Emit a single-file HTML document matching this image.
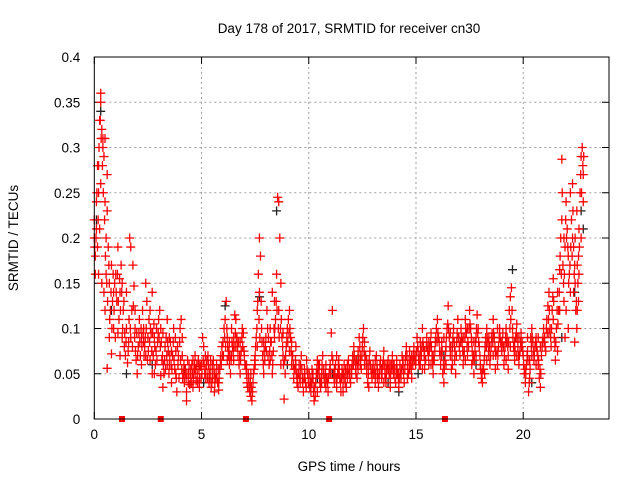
<!DOCTYPE html>
<html><head><meta charset="utf-8"><style>
html,body{margin:0;padding:0;background:#fff;}
svg{display:block;font-family:"Liberation Sans",sans-serif;}
</style></head><body>
<svg id="chart" width="640" height="480" viewBox="0 0 640 480" xmlns="http://www.w3.org/2000/svg">
<rect x="0" y="0" width="640" height="480" fill="#fff"/>
<text x="349" y="33" font-size="13.5" text-anchor="middle" fill="#000">Day 178 of 2017, SRMTID for receiver cn30</text>
<text x="18" y="238" font-size="13.5" text-anchor="middle" transform="rotate(-90 18 238)" fill="#000">SRMTID / TECUs</text>
<text x="349" y="471" font-size="13.5" text-anchor="middle" fill="#000">GPS time / hours</text>
<g id="grid"></g>
<g id="axes"></g>
<g id="blackSeries"></g>
<g id="redSeries"></g>
<g id="markers"></g>
<rect x="94.3" y="57" width="514.7" height="362" fill="none" stroke="#000" stroke-width="1"/>
</svg>
<script>
const xTicks = [0, 5, 10, 15, 20];
const yTicks = [0, 0.05, 0.1, 0.15, 0.2, 0.25, 0.3, 0.35, 0.4];
const yTickLabels = ["0", "0.05", "0.1", "0.15", "0.2", "0.25", "0.3", "0.35", "0.4"];
const markerHours = [1.29, 3.1, 7.07, 10.95, 16.35];
const blackPts = [[0.1,.22],[0.3,.34],[0.8,.12],[1.5,.05],[2.7,.06],[4.2,.055],[5.1,.04],[6.1,.125],[7.7,.135],[8.5,.23],[9.0,.06],[10.4,.045],[12.3,.07],[13.7,.04],[15.1,.05],[16.3,.07],[17.8,.06],[19.5,.165],[20.4,.04],[21.8,.09],[22.4,.14],[22.7,.23],[22.8,.21],[14.2,.03],[11.1,.05]];
const redPts = [
[0.0,.2],[0.0,.22],[0.05,.18],[0.1,.24],[0.1,.21],[0.15,.28],[0.2,.28],[0.2,.25],[0.25,.33],[0.3,.36],[0.3,.35],[0.3,.26],[0.35,.32],[0.4,.31],[0.4,.3],[0.45,.29],[0.5,.31],[0.5,.24],[0.55,.2],[0.6,.27],[0.6,.23],[0.05,.16],[0.15,.19],[0.2,.16],[0.25,.21],[0.35,.15],[0.45,.14],[0.55,.16],[0.65,.19],[0.7,.15],[0.75,.12],[0.8,.17],[0.85,.13],[0.9,.10],[0.95,.15],[0.5,.12],[0.6,.056],[0.7,.09],[0.8,.072],[0.9,.14],
[1.0,.16],[1.05,.13],[1.1,.19],[1.15,.11],[1.2,.14],[1.25,.17],[1.3,.09],[1.35,.12],[1.4,.08],[1.45,.07],[1.5,.10],[1.55,.062],[1.6,.085],[1.65,.2],[1.7,.19],[1.75,.12],[1.8,.17],[1.85,.147],[1.9,.1],[1.95,.065],[1.1,.095],[1.3,.15],[1.5,.14],[1.7,.09],[1.9,.12],[1.2,.07],
[2.0,.05],[2.05,.08],[2.1,.11],[2.15,.07],[2.2,.09],[2.25,.12],[2.3,.1],[2.35,.08],[2.4,.15],[2.45,.13],[2.5,.09],[2.55,.11],[2.6,.065],[2.65,.095],[2.7,.14],[2.75,.07],[2.8,.05],[2.85,.06],[2.9,.1],[2.95,.085],[2.2,.06],[2.4,.07],[2.6,.12],[2.8,.09],[2.3,.085],[2.7,.05],
[3.0,.11],[3.05,.12],[3.1,.1],[3.15,.065],[3.2,.035],[3.25,.05],[3.3,.08],[3.35,.09],[3.4,.11],[3.45,.075],[3.5,.06],[3.55,.085],[3.6,.04],[3.65,.07],[3.7,.1],[3.75,.055],[3.8,.075],[3.85,.03],[3.9,.06],[3.95,.045],[3.2,.095],[3.4,.06],[3.6,.075],[3.8,.05],[3.5,.09],[3.1,.048],
[4.0,.1],[4.05,.11],[4.1,.07],[4.15,.05],[4.2,.04],[4.25,.055],[4.3,.03],[4.35,.065],[4.4,.05],[4.45,.038],[4.5,.045],[4.55,.06],[4.6,.035],[4.65,.055],[4.7,.07],[4.75,.042],[4.8,.05],[4.85,.065],[4.9,.045],[4.95,.058],[4.1,.09],[4.3,.02],[4.5,.055],[4.7,.05],[4.9,.035],[4.6,.065],
[5.0,.06],[5.05,.09],[5.1,.08],[5.15,.05],[5.2,.045],[5.25,.065],[5.3,.07],[5.35,.04],[5.4,.055],[5.45,.035],[5.5,.05],[5.55,.065],[5.6,.03],[5.65,.045],[5.7,.06],[5.75,.04],[5.8,.032],[5.85,.055],[5.9,.07],[5.95,.08],[5.2,.055],[5.4,.045],[5.6,.05],[5.8,.04],[5.5,.06],[5.3,.05],
[6.0,.085],[6.05,.1],[6.1,.11],[6.15,.13],[6.2,.09],[6.25,.07],[6.3,.06],[6.35,.05],[6.4,.1],[6.45,.08],[6.5,.065],[6.55,.115],[6.6,.11],[6.65,.09],[6.7,.07],[6.75,.06],[6.8,.05],[6.85,.075],[6.9,.1],[6.95,.095],[6.2,.065],[6.4,.07],[6.6,.08],[6.8,.085],[6.5,.09],[6.3,.085],
[7.0,.07],[7.05,.06],[7.1,.05],[7.15,.035],[7.2,.045],[7.25,.03],[7.3,.025],[7.35,.02],[7.4,.04],[7.45,.055],[7.5,.07],[7.55,.09],[7.6,.12],[7.65,.16],[7.7,.2],[7.75,.18],[7.8,.1],[7.85,.07],[7.9,.05],[7.95,.065],[7.1,.06],[7.3,.05],[7.5,.06],[7.7,.14],[7.9,.085],[7.6,.08],
[8.0,.09],[8.05,.12],[8.1,.07],[8.15,.06],[8.2,.1],[8.25,.085],[8.3,.05],[8.35,.075],[8.4,.13],[8.45,.11],[8.5,.16],[8.55,.245],[8.6,.24],[8.65,.2],[8.7,.15],[8.75,.09],[8.8,.07],[8.85,.022],[8.9,.05],[8.95,.08],[8.2,.065],[8.4,.09],[8.6,.12],[8.8,.095],[8.3,.14],[8.7,.06],
[9.0,.1],[9.05,.11],[9.1,.12],[9.15,.09],[9.2,.06],[9.25,.07],[9.3,.045],[9.35,.055],[9.4,.08],[9.45,.04],[9.5,.035],[9.55,.06],[9.6,.05],[9.65,.07],[9.7,.045],[9.75,.03],[9.8,.055],[9.85,.04],[9.9,.065],[9.95,.05],[9.2,.085],[9.4,.06],[9.6,.04],[9.8,.045],[9.1,.075],[9.5,.05],
[10,.04],[10.05,.035],[10.1,.03],[10.15,.055],[10.2,.04],[10.25,.02],[10.3,.025],[10.35,.05],[10.4,.065],[10.45,.06],[10.5,.045],[10.55,.035],[10.6,.05],[10.65,.07],[10.7,.055],[10.75,.04],[10.8,.06],[10.85,.045],[10.9,.03],[10.95,.05],[10.2,.05],[10.4,.03],[10.6,.04],[10.8,.035],[10.1,.045],[10.5,.06],
[11,.06],[11.05,.095],[11.1,.12],[11.15,.05],[11.2,.04],[11.25,.06],[11.3,.035],[11.35,.05],[11.4,.065],[11.45,.045],[11.5,.03],[11.55,.055],[11.6,.04],[11.65,.06],[11.7,.05],[11.75,.035],[11.8,.045],[11.85,.065],[11.9,.055],[11.95,.04],[11.2,.055],[11.4,.05],[11.6,.03],[11.8,.06],[11.3,.07],[11.7,.04],
[12,.05],[12.05,.07],[12.1,.08],[12.15,.065],[12.2,.05],[12.25,.045],[12.3,.075],[12.35,.09],[12.4,.06],[12.45,.055],[12.5,.08],[12.55,.1],[12.6,.085],[12.65,.07],[12.7,.05],[12.75,.04],[12.8,.06],[12.85,.075],[12.9,.055],[12.95,.045],[12.2,.06],[12.4,.07],[12.6,.06],[12.8,.035],[12.3,.055],[12.7,.065],
[13,.06],[13.05,.05],[13.1,.04],[13.15,.07],[13.2,.055],[13.25,.035],[13.3,.05],[13.35,.065],[13.4,.045],[13.45,.06],[13.5,.075],[13.55,.05],[13.6,.04],[13.65,.055],[13.7,.065],[13.75,.05],[13.8,.045],[13.85,.06],[13.9,.07],[13.95,.05],[13.2,.045],[13.4,.055],[13.6,.06],[13.8,.035],[13.1,.065],[13.5,.04],
[14,.055],[14.05,.04],[14.1,.065],[14.15,.05],[14.2,.035],[14.25,.06],[14.3,.045],[14.35,.07],[14.4,.055],[14.45,.04],[14.5,.065],[14.55,.08],[14.6,.06],[14.65,.05],[14.7,.075],[14.75,.065],[14.8,.045],[14.85,.06],[14.9,.08],[14.95,.07],[14.2,.05],[14.4,.065],[14.6,.045],[14.8,.07],[14.1,.05],[14.7,.055],
[15,.065],[15.05,.09],[15.1,.075],[15.15,.06],[15.2,.085],[15.25,.07],[15.3,.1],[15.35,.08],[15.4,.055],[15.45,.065],[15.5,.09],[15.55,.075],[15.6,.06],[15.65,.08],[15.7,.095],[15.75,.07],[15.8,.05],[15.85,.065],[15.9,.085],[15.95,.1],[15.2,.06],[15.4,.075],[15.6,.085],[15.8,.07],[15.3,.055],[15.7,.06],
[16,.11],[16.05,.09],[16.1,.075],[16.15,.06],[16.2,.085],[16.25,.05],[16.3,.04],[16.35,.065],[16.4,.08],[16.45,.1],[16.5,.125],[16.55,.09],[16.6,.07],[16.65,.055],[16.7,.08],[16.75,.1],[16.8,.065],[16.85,.05],[16.9,.085],[16.95,.11],[16.2,.07],[16.4,.06],[16.6,.095],[16.8,.08],[16.3,.09],[16.7,.06],
[17,.09],[17.05,.07],[17.1,.1],[17.15,.085],[17.2,.06],[17.25,.075],[17.3,.11],[17.35,.095],[17.4,.07],[17.45,.08],[17.5,.12],[17.55,.1],[17.6,.085],[17.65,.065],[17.7,.05],[17.75,.075],[17.8,.09],[17.85,.115],[17.9,.1],[17.95,.08],[17.2,.09],[17.4,.1],[17.6,.06],[17.8,.07],[17.3,.065],[17.7,.085],
[18,.06],[18.05,.045],[18.1,.04],[18.15,.055],[18.2,.07],[18.25,.09],[18.3,.1],[18.35,.085],[18.4,.07],[18.45,.06],[18.5,.08],[18.55,.095],[18.6,.11],[18.65,.09],[18.7,.075],[18.8,.06],[18.85,.08],[18.9,.1],[18.95,.085],[18.2,.05],[18.4,.09],[18.6,.07],[18.8,.1],[18.7,.055],[18.3,.065],
[19,.075],[19.05,.095],[19.1,.06],[19.15,.08],[19.2,.1],[19.25,.09],[19.3,.07],[19.35,.12],[19.4,.135],[19.45,.145],[19.5,.1],[19.55,.08],[19.6,.065],[19.65,.09],[19.7,.105],[19.75,.08],[19.8,.06],[19.85,.075],[19.9,.095],[19.95,.085],[19.2,.065],[19.4,.08],[19.6,.085],[19.8,.09],[19.3,.055],[19.7,.07],
[20,.07],[20.05,.05],[20.1,.04],[20.15,.06],[20.2,.075],[20.25,.03],[20.3,.045],[20.35,.09],[20.4,.1],[20.45,.085],[20.5,.065],[20.55,.08],[20.6,.09],[20.65,.075],[20.7,.06],[20.75,.045],[20.8,.035],[20.85,.07],[20.9,.085],[20.95,.1],[20.2,.09],[20.4,.07],[20.6,.06],[20.8,.08],[20.3,.065],[20.7,.09],
[21,.09],[21.05,.075],[21.1,.11],[21.15,.125],[21.2,.14],[21.25,.1],[21.3,.08],[21.35,.12],[21.4,.155],[21.45,.09],[21.5,.065],[21.55,.1],[21.6,.14],[21.65,.12],[21.7,.165],[21.75,.2],[21.8,.22],[21.85,.17],[21.9,.13],[21.95,.19],[21.2,.095],[21.4,.11],[21.6,.075],[21.8,.287],[21.9,.2],[21.7,.12],
[22,.24],[22.05,.21],[22.1,.18],[22.15,.16],[22.2,.14],[22.25,.22],[22.3,.26],[22.35,.19],[22.4,.17],[22.45,.12],[22.5,.1],[22.55,.15],[22.6,.21],[22.65,.25],[22.7,.29],[22.75,.3],[22.8,.27],[22.1,.1],[22.3,.2],[22.5,.23],[22.6,.16],[22.7,.2],[22.0,.12],[22.4,.085],[22.2,.25],[22.8,.24],[21.95,.09],[22.35,.14]
];
const redPts2 = [
[0.02,.19],[0.08,.2],[0.12,.25],[0.18,.22],[0.22,.3],[0.28,.33],[0.32,.31],[0.38,.28],[0.42,.25],[0.48,.22],[0.52,.18],[0.58,.15],[0.62,.13],[0.68,.17],[0.72,.11],[0.78,.14],[0.82,.1],[0.88,.16],[0.92,.12],[0.98,.09],
[1.02,.14],[1.08,.16],[1.12,.13],[1.18,.155],[1.22,.12],[1.28,.14],[1.32,.1],[1.38,.13],[1.42,.095],[1.48,.085],[1.58,.075],[1.62,.11],[1.68,.1],[1.78,.08],[1.82,.125],[1.88,.09],[1.92,.075],[1.98,.095],
[2.02,.07],[2.08,.095],[2.12,.085],[2.18,.1],[2.22,.08],[2.28,.095],[2.32,.07],[2.38,.09],[2.42,.1],[2.48,.065],[2.52,.075],[2.58,.085],[2.62,.1],[2.68,.075],[2.72,.095],[2.78,.105],[2.82,.08],[2.88,.075],[2.92,.065],[2.98,.095],
[3.02,.09],[3.08,.08],[3.12,.085],[3.18,.07],[3.22,.06],[3.28,.065],[3.32,.055],[3.38,.07],[3.42,.085],[3.48,.05],[3.52,.07],[3.58,.06],[3.62,.055],[3.68,.085],[3.72,.065],[3.78,.09],[3.82,.045],[3.88,.08],[3.92,.07],[3.98,.085],
[4.02,.065],[4.08,.055],[4.12,.045],[4.18,.06],[4.22,.05],[4.28,.045],[4.32,.05],[4.38,.04],[4.42,.06],[4.48,.05],[4.52,.04],[4.58,.05],[4.62,.045],[4.68,.06],[4.72,.055],[4.78,.06],[4.82,.04],[4.88,.055],[4.92,.06],[4.98,.045],
[5.02,.05],[5.08,.065],[5.12,.06],[5.18,.07],[5.22,.06],[5.28,.045],[5.32,.06],[5.38,.05],[5.42,.065],[5.48,.04],[5.52,.045],[5.58,.055],[5.62,.04],[5.68,.05],[5.72,.045],[5.78,.055],[5.82,.045],[5.88,.065],[5.92,.06],[5.98,.07],
[6.02,.07],[6.08,.09],[6.12,.08],[6.18,.1],[6.22,.08],[6.28,.075],[6.32,.07],[6.38,.065],[6.42,.085],[6.48,.075],[6.52,.08],[6.58,.095],[6.62,.09],[6.68,.08],[6.72,.085],[6.78,.07],[6.82,.065],[6.88,.09],[6.92,.08],[6.98,.075],
[7.02,.06],[7.08,.055],[7.12,.04],[7.18,.05],[7.22,.035],[7.28,.04],[7.32,.035],[7.38,.03],[7.42,.05],[7.48,.065],[7.52,.08],[7.58,.1],[7.62,.13],[7.68,.11],[7.72,.09],[7.78,.13],[7.82,.085],[7.88,.06],[7.92,.075],[7.98,.08],
[8.02,.075],[8.08,.1],[8.12,.09],[8.18,.075],[8.22,.085],[8.28,.07],[8.32,.06],[8.38,.1],[8.42,.1],[8.48,.13],[8.52,.12],[8.58,.1],[8.62,.09],[8.68,.1],[8.72,.11],[8.78,.08],[8.82,.06],[8.88,.065],[8.92,.07],[8.98,.09],
[9.02,.085],[9.08,.095],[9.12,.1],[9.18,.075],[9.22,.07],[9.28,.06],[9.32,.055],[9.38,.065],[9.42,.05],[9.48,.045],[9.52,.05],[9.58,.045],[9.62,.06],[9.68,.055],[9.72,.04],[9.78,.045],[9.82,.05],[9.88,.035],[9.92,.055],[9.98,.04],
[10.02,.05],[10.08,.04],[10.12,.04],[10.18,.045],[10.22,.03],[10.28,.035],[10.32,.04],[10.38,.055],[10.42,.05],[10.48,.055],[10.52,.04],[10.58,.045],[10.62,.06],[10.68,.05],[10.72,.045],[10.78,.05],[10.82,.045],[10.88,.04],[10.92,.045],[10.98,.055],
[11.02,.05],[11.08,.07],[11.12,.065],[11.18,.045],[11.22,.05],[11.28,.045],[11.32,.045],[11.38,.06],[11.42,.055],[11.48,.04],[11.52,.045],[11.58,.05],[11.62,.05],[11.68,.045],[11.72,.055],[11.78,.05],[11.82,.055],[11.88,.05],[11.92,.045],[11.98,.055],
[12.02,.06],[12.08,.06],[12.12,.07],[12.18,.055],[12.22,.065],[12.28,.06],[12.32,.065],[12.38,.08],[12.42,.065],[12.48,.07],[12.52,.09],[12.58,.075],[12.62,.07],[12.68,.06],[12.72,.06],[12.78,.05],[12.82,.065],[12.88,.06],[12.92,.05],[12.98,.055],
[13.02,.05],[13.08,.055],[13.12,.05],[13.18,.06],[13.22,.05],[13.28,.045],[13.32,.06],[13.38,.055],[13.42,.05],[13.48,.065],[13.52,.06],[13.58,.045],[13.62,.05],[13.68,.06],[13.72,.055],[13.78,.06],[13.82,.05],[13.88,.055],[13.92,.06],[13.98,.06],
[14.02,.045],[14.08,.055],[14.12,.055],[14.18,.045],[14.22,.045],[14.28,.05],[14.32,.055],[14.38,.06],[14.42,.05],[14.48,.055],[14.52,.07],[14.58,.07],[14.62,.055],[14.68,.065],[14.72,.06],[14.78,.055],[14.82,.065],[14.88,.07],[14.92,.065],[14.98,.06],
[15.02,.075],[15.08,.08],[15.12,.065],[15.18,.07],[15.22,.075],[15.28,.08],[15.32,.085],[15.38,.07],[15.42,.065],[15.48,.08],[15.52,.08],[15.58,.07],[15.62,.075],[15.68,.085],[15.72,.08],[15.78,.06],[15.82,.065],[15.88,.075],[15.92,.09],[15.98,.085],
[16.02,.095],[16.08,.085],[16.12,.07],[16.18,.075],[16.22,.075],[16.28,.06],[16.32,.055],[16.38,.075],[16.42,.09],[16.48,.105],[16.52,.1],[16.58,.08],[16.62,.08],[16.68,.07],[16.72,.09],[16.78,.085],[16.82,.075],[16.88,.07],[16.92,.095],[16.98,.09],
[17.02,.08],[17.08,.085],[17.12,.09],[17.18,.075],[17.22,.07],[17.28,.09],[17.32,.1],[17.38,.08],[17.42,.085],[17.48,.1],[17.52,.105],[17.58,.09],[17.62,.075],[17.68,.07],[17.72,.065],[17.78,.085],[17.82,.1],[17.88,.095],[17.92,.085],[17.98,.07],
[18.02,.055],[18.08,.05],[18.12,.055],[18.18,.065],[18.22,.08],[18.28,.08],[18.32,.09],[18.38,.075],[18.42,.08],[18.48,.07],[18.52,.09],[18.58,.085],[18.62,.095],[18.68,.08],[18.72,.07],[18.78,.075],[18.82,.07],[18.88,.09],[18.92,.09],[18.98,.08],
[19.02,.085],[19.08,.08],[19.12,.07],[19.18,.09],[19.22,.085],[19.28,.08],[19.32,.085],[19.38,.1],[19.42,.11],[19.48,.12],[19.52,.09],[19.58,.075],[19.62,.075],[19.68,.095],[19.72,.09],[19.78,.07],[19.82,.07],[19.88,.085],[19.92,.08],[19.98,.075],
[20.02,.06],[20.08,.055],[20.12,.05],[20.18,.07],[20.22,.065],[20.28,.04],[20.32,.055],[20.38,.08],[20.42,.09],[20.48,.075],[20.52,.07],[20.58,.085],[20.62,.08],[20.68,.07],[20.72,.065],[20.78,.055],[20.82,.05],[20.88,.08],[20.92,.09],[20.98,.085],
[21.02,.08],[21.08,.1],[21.12,.095],[21.18,.11],[21.22,.12],[21.28,.09],[21.32,.1],[21.38,.135],[21.42,.13],[21.48,.08],[21.52,.085],[21.58,.12],[21.62,.105],[21.68,.14],[21.72,.18],[21.78,.16],[21.82,.25],[21.88,.15],[21.92,.16],[21.98,.22],
[22.02,.2],[22.08,.19],[22.12,.15],[22.18,.17],[22.22,.19],[22.28,.18],[22.32,.23],[22.38,.16],[22.42,.15],[22.48,.13],[22.52,.12],[22.58,.18],[22.62,.19],[22.68,.27],[22.72,.25],[22.78,.28],[22.82,.29],[22.42,.2],[22.52,.17],[22.58,.13]
];
const X0 = 94.3, X1 = 609, Y0 = 419, Y1 = 57;
const xMin = 0, xMax = 24, yMin = 0, yMax = 0.4;
function xs(v){ return X0 + (v - xMin) / (xMax - xMin) * (X1 - X0); }
function ys(v){ return Y0 - (v - yMin) / (yMax - yMin) * (Y0 - Y1); }
const NS = "http://www.w3.org/2000/svg";
function mk(tag, attrs, parent){ const e = document.createElementNS(NS, tag); for (const k in attrs) e.setAttribute(k, attrs[k]); parent.appendChild(e); return e; }
const grid = document.getElementById("grid"), axes = document.getElementById("axes");
xTicks.forEach(t => {
  const x = xs(t);
  if (t > xMin) { const g = mk("line", {x1:x, x2:x, y1:Y1, y2:Y0, stroke:"#a0a0a0", "stroke-dasharray":"2,3"}, grid);   }
  mk("line", {x1:x, x2:x, y1:Y0, y2:Y0-7, stroke:"#000"}, axes);
  mk("line", {x1:x, x2:x, y1:Y1, y2:Y1+7, stroke:"#000"}, axes);
  const tx = mk("text", {x:x, y:Y0+20, "font-size":"13.5", "text-anchor":"middle", fill:"#000"}, axes);
  
  
  tx.textContent = String(t);
});
yTicks.forEach((t, i) => {
  const y = ys(t);
  if (t > yMin && t < yMax) { const g = mk("line", {x1:X0, x2:X1, y1:y, y2:y, stroke:"#a0a0a0", "stroke-dasharray":"2,3"}, grid);   }
  mk("line", {x1:X0, x2:X0+7, y1:y, y2:y, stroke:"#000"}, axes);
  mk("line", {x1:X1, x2:X1-7, y1:y, y2:y, stroke:"#000"}, axes);
  const tx = mk("text", {x:X0-14, y:y+5, "font-size":"13.5", "text-anchor":"end", fill:"#000"}, axes);
  
  
  tx.textContent = yTickLabels[i];
});
function plus(parent, p, color, name){
  const x = xs(p[0]), y = ys(p[1]);
  const e = mk("path", {d:`M${x-4.5} ${y}H${x+4.5}M${x} ${y-4.5}V${y+4.5}`, stroke:color, "stroke-width":"1.3", fill:"none"}, parent);
  
  
}
const bg = document.getElementById("blackSeries");
blackPts.forEach(p => plus(bg, p, "#202020", "black-point"));
const rg = document.getElementById("redSeries");
redPts.forEach(p => plus(rg, p, "#ff0000", "red-point"));
redPts2.forEach(p => plus(rg, p, "#ff0000", "red-point"));
const mg = document.getElementById("markers");
markerHours.forEach(h => {
  const r = mk("rect", {x:xs(h)-3, y:Y0-3, width:6, height:6, fill:"#ff0000"}, mg);
  
  
});
</script>
</body></html>
